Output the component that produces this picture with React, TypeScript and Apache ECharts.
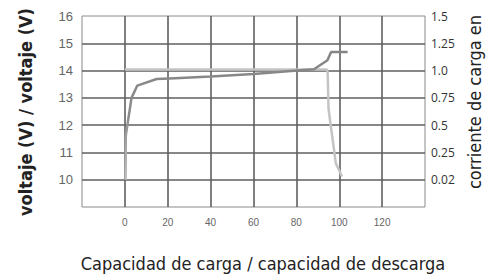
import React, { useEffect, useRef } from "react";
import * as echarts from "echarts";

const xTicks = [0, 20, 40, 60, 80, 100, 120];
const leftTickLabels = ["", "10", "11", "12", "13", "14", "15", "16"]; // values 9..16
const rightTickLabels = ["", "0.02", "0.25", "0.5", "0.75", "1.0", "1.25", "1.5"]; // values 9..16

const chargeX = [0.4, 0.4, 3.1, 5.8, 14.8, 23.4, 40, 60, 80.4, 88.2, 94.5, 96.2, 103.9];
const chargeY = [10.0, 11.6, 13.0, 13.45, 13.69, 13.72, 13.78, 13.87, 14.0, 14.05, 14.38, 14.68, 14.68];

const dischargeX = [0, 94.3, 94.6, 95.0, 98.4, 101.3];
const dischargeY = [14.04, 14.04, 13.9, 12.6, 10.6, 10.12];

const xTitle = "Capacidad de carga / capacidad de descarga";
const yTitle = "voltaje (V) / voltaje (V)";
const y2Title = "corriente de carga en";

export default function App() {
  const ref = useRef<HTMLDivElement>(null);
  useEffect(() => {
    if (!ref.current) return;
    const chart = echarts.init(ref.current, undefined, { renderer: "svg" });
    const narrow = "'Liberation Sans Narrow', 'DejaVu Sans Condensed', sans-serif";
    chart.setOption({
      animation: false,
      grid: {
        left: 82,
        right: 62,
        top: 16,
        bottom: 69,
        show: true,
        borderColor: "#8a8a8a",
        borderWidth: 1,
        containLabel: false,
      },
      xAxis: {
        type: "value",
        min: -20,
        max: 140,
        interval: 20,
        axisLine: { show: false },
        axisTick: { show: false },
        axisLabel: {
          color: "#666",
          fontSize: 10,
          fontFamily: "'Liberation Sans', Arial, sans-serif",
          margin: 10,
          formatter: (v: number) => (xTicks.includes(v) ? String(v) : ""),
        },
        splitLine: {
          show: true,
          showMinLine: false,
          showMaxLine: false,
          lineStyle: { color: "#5f5f5f", width: 1.6 },
        },
      },
      yAxis: [
        {
          type: "value",
          min: 9,
          max: 16,
          interval: 1,
          axisLine: { show: false },
          axisTick: { show: false },
          axisLabel: {
            color: "#666",
            fontSize: 13,
            fontFamily: "'Liberation Sans', Arial, sans-serif",
            margin: 9,
            formatter: (v: number) => leftTickLabels[Math.round(v) - 9] ?? "",
          },
          splitLine: {
            show: true,
            showMinLine: false,
            showMaxLine: false,
            lineStyle: { color: "#5f5f5f", width: 1.6 },
          },
        },
        {
          type: "value",
          min: 9,
          max: 16,
          interval: 1,
          position: "right",
          axisLine: { show: false },
          axisTick: { show: false },
          axisLabel: {
            color: "#333",
            fontSize: 12,
            fontFamily: "'Open Sans', sans-serif",
            margin: 6,
            formatter: (v: number) => rightTickLabels[Math.round(v) - 9] ?? "",
          },
          splitLine: { show: false },
        },
      ],
      series: [
        {
          type: "line",
          data: dischargeX.map((x, i) => [x, dischargeY[i]]),
          showSymbol: false,
          symbol: "none",
          lineStyle: { color: "#c4c4c4", width: 2.5 },
          z: 3,
        },
        {
          type: "line",
          data: chargeX.map((x, i) => [x, chargeY[i]]),
          showSymbol: false,
          symbol: "none",
          lineStyle: {
            width: 2.5,
            color: new echarts.graphic.LinearGradient(0, 0, 0, 1, [
              { offset: 0, color: "#858585" },
              { offset: 0.5, color: "#8c8c8c" },
              { offset: 1, color: "#c2c2c2" },
            ]),
          },
          z: 4,
        },
      ],
      graphic: [
        {
          type: "text",
          x: 25,
          y: 112,
          rotation: Math.PI / 2,
          style: {
            text: yTitle,
            fontSize: 18,
            fontWeight: "bold",
            fontFamily: narrow,
            fill: "#222",
            align: "center",
            verticalAlign: "middle",
          },
        },
        {
          type: "text",
          x: 474,
          y: 102,
          rotation: Math.PI / 2,
          style: {
            text: y2Title,
            fontSize: 18,
            fontFamily: narrow,
            fill: "#222",
            align: "center",
            verticalAlign: "middle",
          },
        },
        {
          type: "text",
          x: 263,
          y: 263,
          style: {
            text: xTitle,
            fontSize: 18,
            fontFamily: narrow,
            fill: "#222",
            align: "center",
            verticalAlign: "middle",
          },
        },
      ],
    });
    return () => chart.dispose();
  }, []);
  return <div ref={ref} style={{ width: 487, height: 276, position: "absolute", left: 0, top: 0 }} />;
}
